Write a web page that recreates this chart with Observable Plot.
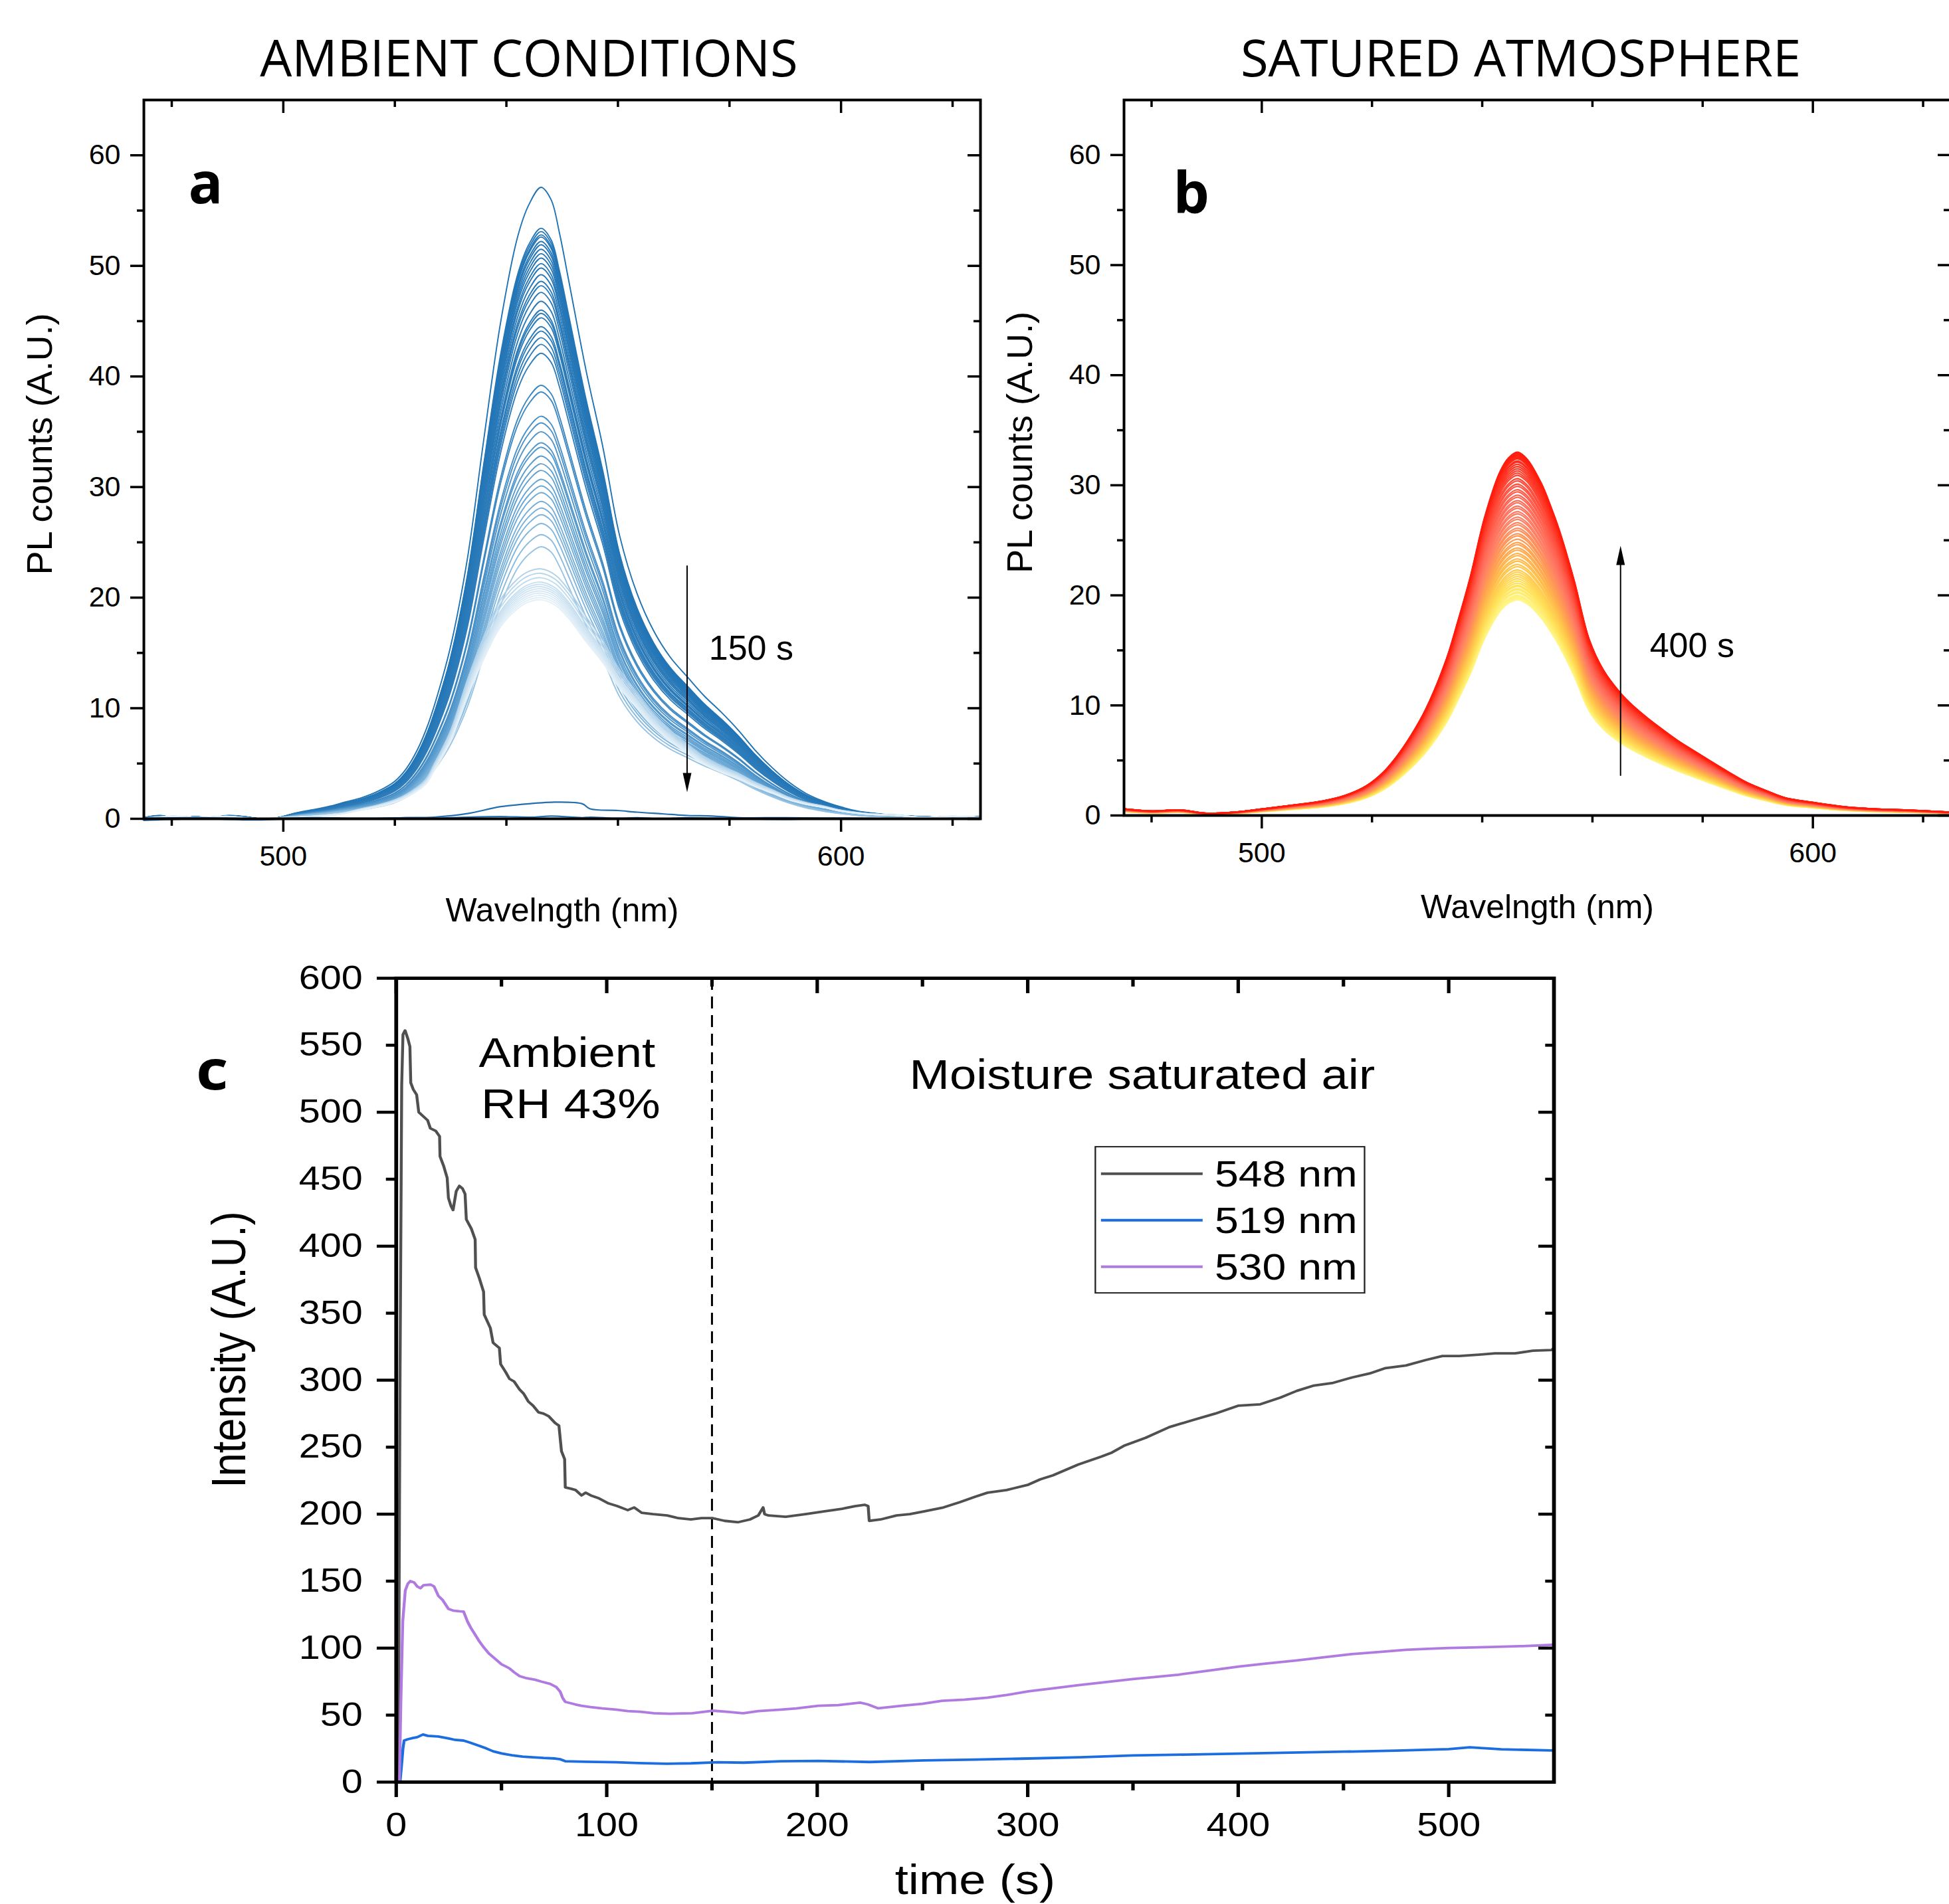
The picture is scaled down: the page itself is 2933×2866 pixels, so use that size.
<!DOCTYPE html>
<html><head><meta charset="utf-8">
<script src="https://cdn.jsdelivr.net/npm/d3@7"></script>
<script src="https://cdn.jsdelivr.net/npm/@observablehq/plot@0.6"></script>
<style>
html,body{margin:0;padding:0;background:#fff;overflow:hidden;}
#root{position:relative;width:2933px;height:2866px;overflow:hidden;background:#fff;}
.panel{position:absolute;}
.panel svg{max-width:none !important;}
</style></head><body><div id="root"></div>
<script>
// ---------- Panel a : ambient conditions (PL spectra) ----------
const wlTopA = [475,478,481,484,487,490,493,496,499,502,505,508,511,514,517,520,522,524,526,528,530,533,536,539,542,544,546.2,548,549.5,551.2,554.3,557.3,560.3,563.4,566.4,569.4,572.5,575.5,578.6,581.6,584.6,587.7,590.7,593.7,596.8,599.8,603,606,610,615,620,625];
const countsTopA = [0.1,0.3,0.0,0.2,0.1,0.3,0.2,0.0,0.1,0.5,0.8,1.1,1.5,1.9,2.5,3.4,4.5,6.2,8.6,11.8,15.6,23.5,34.5,45.0,52.6,55.5,57.1,56.0,53.0,48.6,40.5,33.6,25.6,20.4,17.0,14.6,12.8,11.1,9.6,8.0,6.2,4.6,3.3,2.3,1.6,1.1,0.7,0.5,0.3,0.2,0.1,0.2];
const wlLowA = [475,480,485,490,495,500,505,510,514,517,520,522.3,525.5,527,530,533,536,539,542,544,546.2,548.8,551.2,554,557.3,560,563.4,566,569.4,572.5,575.5,578.5,581.6,584.6,587.7,590.7,593.7,597,599.8,605,610,615,620,625];
const countsLowA = [0.0,0.2,0.1,0.2,0.0,0.1,0.2,0.4,0.8,1.1,1.5,2.0,3.1,4.3,7.0,11.0,14.5,17.4,19.0,19.6,19.8,19.3,18.1,16.2,14.1,12.0,10.0,8.5,7.0,5.9,4.9,4.2,3.6,2.9,2.3,1.7,1.3,1.0,0.7,0.4,0.3,0.1,0.2,0.1];
const peaksA = [57.1,53.4,53.1,52.8,52.6,52.2,51.9,51.5,51.1,50.7,50.2,49.8,49.2,48.6,48.2,47.6,46.8,46.0,45.7,45.3,44.5,44.1,43.5,42.9,42.1,39.2,38.6,36.4,35.8,35.0,34.0,33.6,32.8,32.1,31.5,30.7,30.1,29.5,28.7,28.1,27.5,26.7,25.7,24.6,22.6,22.2,21.8,21.4,21.2,21.0,20.8,20.6,20.4,20.2,20.0,19.8];
const darkWlA = [475,485,495,505,515,522,527,533,539,545,548,553.6,555,560,563.4,568,572.5,577,581.6,590,600,612,625];
const darkBumpA = [0.05,0.1,0.0,0.1,0.05,0.1,0.15,0.47,1.1,1.4,1.5,1.36,0.9,0.75,0.6,0.45,0.3,0.25,0.1,0.1,0.05,0.0,0.05];
const darkFlatA = [-0.15,0.0,-0.1,0.05,0.0,0.1,0.05,0.15,0.2,0.15,0.25,0.1,0.15,0.05,0.1,0.0,0.1,0.05,0.0,-0.05,0.05,0.0,0.0];

// ---------- Panel b : saturated atmosphere ----------
const wlB = [475,480,485,490,495,500.2,505,510.9,515,519,522,524.4,527,529.8,533.5,535.5,537.8,540.5,543.2,544.8,546.4,548.1,550.7,552.5,554,556.7,559.4,562,565.3,567.5,570.1,573,575.5,578,580.9,584.5,588,591.8,595,599.8,605.5,611,616.9,621,625];
const countsB = [0.6,0.4,0.5,0.2,0.3,0.6,0.9,1.3,1.8,2.7,3.9,5.3,7.2,9.7,14.2,17.5,21.6,27.2,31.2,32.5,33.0,32.4,30.2,28.0,25.9,21.3,16.0,13.2,11.0,9.9,8.8,7.7,6.8,6.0,5.1,4.0,3.0,2.2,1.6,1.2,0.8,0.6,0.5,0.4,0.3];
const peaksB = [19.6,19.7,19.8,19.9,20.0,20.2,20.3,20.5,20.6,20.8,20.9,21.1,21.3,21.5,21.7,21.9,22.1,22.3,22.6,22.8,23.1,23.3,23.6,23.8,24.1,24.3,24.6,24.8,25.1,25.4,25.6,25.9,26.1,26.4,26.6,26.9,27.1,27.4,27.6,27.9,28.1,28.4,28.6,28.9,29.1,29.4,29.6,29.9,30.1,30.4,30.6,30.9,31.1,31.3,31.5,31.7,31.9,32.1,32.2,32.4,32.5,32.6,32.7,32.8,32.9,33.0];

// ---------- Panel c : intensity vs time ----------
const t548 = [0,1.0,1.8,2.6,3.2,4.2,5.5,6.5,6.9,8.1,9.7,10.7,12.8,14.9,16.2,18.8,20.6,20.8,22.5,24.2,24.8,26.0,27.0,28.5,30.0,31.5,32.7,33.3,35.7,37.5,37.7,39.5,41.5,41.8,44.7,46.0,49.0,49.6,52,53.8,56,58.6,60.5,62.8,65,67.6,70,72.5,75.5,77.3,78.5,80.0,80.3,83,85.2,88,90,92.4,96,100.9,105,110,113,116.6,122,128.7,134,140,145,150.4,156,162.5,168,172,174.3,175,176.9,185,194.5,203,211.8,218,222.5,224.2,224.7,230,237.7,244,250.6,260,267.9,275,280.9,290,300.3,306,312,324,335,340,345.7,356,367.3,378,389,400.2,410.5,420,427.8,436,445.1,454,462.4,470,479.7,489,497,505,514.3,522,531.5,540,548.8,550];
const v548 = [0,2,300,520,558,561,555,549,522,517,513,500,497,494,488,486,482,467,460,451,436,430,427,441,445,443,439,420,413,405,384,376,366,349,339,328,324,312,306,301,299,293,290,284,281,276,275,273,268,266,247,241,220,219,218,214,216,214,212,208,206,203,205,201,200,199,197,196,197,197,195,194,196,199,205,200,199,198,200,202,204,206,207,206,195,196,199,200,202,205,209,213,216,218,222,226,229,237,243,246,251,257,265,270,275,281,282,287,292,296,298,302,305,309,311,315,318,318,319,320,320,322,322.5,324];
const t519 = [0,1.8,2.5,3.2,3.75,5.5,7.9,10,12.7,15,20,25,28,32,35,39.3,43,46,50.1,55,60,63.4,70,75.5,78,80.3,90,104.4,115,128.5,140,152.7,165,182.9,200.5,225,250.6,275,300.3,325,350,375,400.2,425,450.3,475,500,510,525,548.8,550];
const v519 = [0,0,12,25,31,32,32.9,33.5,35.5,34.5,34,32.5,31.5,31,29.5,27.2,25,23,21.4,20,19,18.7,18,17.6,17,15.6,15.2,14.8,14.2,13.7,14,14.8,14.5,15.6,15.8,15,16.2,16.8,17.6,18.5,19.9,20.5,21.3,22,22.7,23.5,24.6,26,24.5,23.6,24];
const t530 = [0,1.5,2.2,3.1,4.3,5.5,6.7,8.5,10,11.5,13,16.4,18,20,22,24.8,27,30,32,33.9,35.5,37.5,39.5,41.7,44,46.6,50,53.8,56,58.6,62,65.9,69,73.1,76,77.9,79,80.3,85,88,92.4,98,104.4,110,116,122.5,130,140.6,150.3,157,164.8,172,182.9,190,200.5,210,220.4,224,229,240,250,259.3,270,280.9,290,300.3,312,324,336,350,361,371.6,385,400.2,413,427.8,440,453.8,466,479.7,490,500,511,522.9,535,548.8,550];
const v530 = [0,0,60,120,143,148,150,149,146,144.7,147,147.4,146,139,136,129.3,128,127.5,127.3,119.7,115,110,105,100.3,96,92.6,88,84.9,82,79.1,77.5,76.4,75,73.3,71,67.5,63,59.9,58,57,56,55,54.1,53,52.5,51.4,51,51.4,53.3,52.5,51.4,53,54.1,55,57,57.5,59.3,58,55.1,57,58.5,60.7,61.5,63,65,67.7,70,72.3,74.5,76.9,78.5,80.2,83,86.2,88.5,90.8,93,95.5,97,98.7,99.5,100.1,100.5,101,101.5,102.4,103];
const seriesNamesC = ["548 nm", "519 nm", "530 nm"];

// tick values
const yLabelsAB = [0,10,20,30,40,50,60];
const yMinorAB = [5,15,25,35,45,55];
const xMajorAB = [500,600];
const xMinorAB = [480,520,540,560,580,620];
const xMajorC = [0,100,200,300,400,500];
const xMinorC = [50,150,250,350,450];
const yLabelsC = [0,50,100,150,200,250,300,350,400,450,500,550,600];
const yMajorC = [0,100,200,300,400,500,600];
const yMinorC = [50,150,250,350,450,550];

// ---------- helpers ----------
const root = document.getElementById("root");
function place(el, left, top, extra) {
  const d = document.createElement("div");
  d.className = "panel"; d.style.left = left + "px"; d.style.top = top + "px";
  if (extra) Object.assign(d.style, extra);
  el.style.maxWidth = "none";
  d.appendChild(el); root.appendChild(d);
}
function ticksX(values, len, side, H, sw) {
  return side === "bottom"
    ? Plot.ruleX(values, {x: d => d, insetTop: H, insetBottom: -len, stroke: "black", strokeWidth: sw})
    : Plot.ruleX(values, {x: d => d, insetTop: 0, insetBottom: H - len, stroke: "black", strokeWidth: sw});
}
function ticksY(values, len, side, W, sw) {
  return side === "left"
    ? Plot.ruleY(values, {y: d => d, insetLeft: -len, insetRight: W, stroke: "black", strokeWidth: sw})
    : Plot.ruleY(values, {y: d => d, insetLeft: W - len, insetRight: 0, stroke: "black", strokeWidth: sw});
}
const headDown = {draw(ctx) { ctx.moveTo(0, 0); ctx.lineTo(-6.5, -29); ctx.lineTo(6.5, -29); ctx.closePath(); }};
const headUp = {draw(ctx) { ctx.moveTo(0, 0); ctx.lineTo(-6.5, 29); ctx.lineTo(6.5, 29); ctx.closePath(); }};

// ---------- build panel a ----------
const topPeakA = d3.max(countsTopA), lowPeakA = d3.max(countsLowA);
const rowsA = [];
peaksA.forEach((p, i) => {
  const low = p < 23.5;
  const wl = low ? wlLowA : wlTopA, c = low ? countsLowA : countsTopA, ref = low ? lowPeakA : topPeakA;
  wl.forEach((w, j) => rowsA.push({id: i, peak: p, wl: w, v: c[j] * p / ref}));
});
const darkRowsA = [];
darkWlA.forEach((w, j) => { darkRowsA.push({id: "bump", wl: w, v: darkBumpA[j]}); });
darkWlA.forEach((w, j) => { darkRowsA.push({id: "flat", wl: w, v: darkFlatA[j]}); });

const arrowA = {x: 572.4, yTop: 22.9, yTip: 2.4, yBase: 3.9};
const noteA = {x: 576.3, y: 14.4, label: "150 s"};

function spectraPanel({rows, extraLines, width, mL, mR, mT, mB, height, colorDomain, colorRange, title, titleDx, letter, letterDx, letterDy, arrow, head, note, lw}) {
  const W = width - mL - mR, H = height - mT - mB;
  return Plot.plot({
    width, height, marginLeft: mL, marginRight: mR, marginTop: mT, marginBottom: mB,
    x: {domain: [475, 625]},
    y: {domain: [0, 65]},
    color: {type: "linear", domain: colorDomain, range: colorRange, interpolate: "rgb"},
    style: {fontFamily: "Liberation Sans, Arial, sans-serif", fontSize: "43px", color: "black", background: "transparent", overflow: "visible", maxWidth: "none"},
    marks: [
      Plot.line(rows, {x: "wl", y: "v", z: "id", stroke: "peak", strokeWidth: lw, curve: "catmull-rom"}),
      ...(extraLines ? [Plot.line(extraLines, {x: "wl", y: "v", z: "id", stroke: "#236fb0", strokeWidth: 2.2, curve: "catmull-rom"})] : []),
      Plot.frame({stroke: "black", strokeWidth: 4}),
      ticksX(xMajorAB, 20, "bottom", H, 3.5), ticksX(xMinorAB, 11, "bottom", H, 3.5),
      ticksX(xMajorAB, 20, "top", H, 3.5), ticksX(xMinorAB, 11, "top", H, 3.5),
      ticksY(yLabelsAB, 20, "left", W, 3.5), ticksY(yMinorAB, 10, "left", W, 3.5),
      ticksY(yLabelsAB, 19, "right", W, 3.5), ticksY(yMinorAB, 10, "right", W, 3.5),
      Plot.axisY(yLabelsAB, {anchor: "left", tickSize: 0, tickPadding: 35, fontSize: 43, label: null, tickFormat: d => String(d)}),
      Plot.axisX(xMajorAB, {anchor: "bottom", tickSize: 0, tickPadding: 40, fontSize: 43, label: null, tickFormat: d => String(d)}),
      Plot.text(["Wavelngth (nm)"], {text: d => d, frameAnchor: "bottom", dy: 154, lineAnchor: "bottom", textAnchor: "middle", fontSize: 50}),
      Plot.text(["PL counts (A.U.)"], {text: d => d, frameAnchor: "left", rotate: -90, dx: -139, dy: -23, lineAnchor: "bottom", textAnchor: "middle", fontSize: 54}),
      Plot.text([title], {text: d => d, frameAnchor: "top", dx: titleDx, dy: -36, lineAnchor: "bottom", textAnchor: "middle", fontFamily: "Open Sans", fontSize: 76}),
      Plot.text([letter], {text: d => d, frameAnchor: "top-left", dx: letterDx, dy: letterDy, lineAnchor: "bottom", textAnchor: "start", fontFamily: "Open Sans", fontWeight: "bold", fontSize: 86}),
      Plot.link([arrow], {x1: "x", x2: "x", y1: "yTop", y2: "yBase", stroke: "black", strokeWidth: 2}),
      Plot.dot([arrow], {x: "x", y: "yTip", symbol: head, fill: "black", stroke: null, r: 5}),
      Plot.text([note], {x: "x", y: "y", text: "label", textAnchor: "start", lineAnchor: "bottom", fontSize: 52})
    ]
  });
}

const plotA = spectraPanel({
  rows: rowsA, extraLines: darkRowsA, width: 1560, height: 1450, mL: 216, mR: 85, mT: 150, mB: 218,
  colorDomain: [19.8, 22.6, 26, 32, 42, 57.1],
  colorRange: ["#e4f0f8", "#b0d2ea", "#86b9de", "#5d9fd0", "#2f7dbb", "#1f73b4"],
  title: "AMBIENT CONDITIONS", titleDx: -50, letter: "a", letterDx: 67, letterDy: 155,
  arrow: arrowA, head: headDown, note: noteA, lw: 1.9
});
place(plotA, 0, 0);

// ---------- build panel b ----------
const topPeakB = d3.max(countsB);
const rowsB = [];
peaksB.forEach((p, i) => { wlB.forEach((w, j) => rowsB.push({id: i, peak: p, wl: w, v: countsB[j] * p / topPeakB})); });
const arrowB = {x: 565.1, yTop: 3.6, yBase: 22.8, yTip: 24.5};
const noteB = {x: 570.4, y: 14.4, label: "400 s"};
const plotB = spectraPanel({
  rows: rowsB, extraLines: null, width: 1520, height: 1450, mL: 251, mR: 25, mT: 150, mB: 223,
  colorDomain: [19.6, 21, 23, 25, 27, 29, 31, 33],
  colorRange: ["#fff78a", "#ffe35a", "#ffc04a", "#ff9d52", "#ff8066", "#ff6655", "#ff4433", "#ff1c0c"],
  title: "SATURED ATMOSPHERE", titleDx: -25, letter: "b", letterDx: 74, letterDy: 170,
  arrow: arrowB, head: headUp, note: noteB, lw: 2.3
});
place(plotB, 1440, 0);

// ---------- build panel c ----------
const colorsC = ["#505050", "#1c6ee0", "#b07be0"];
const rowsC = [];
[[t548, v548], [t519, v519], [t530, v530]].forEach(([ts, vs], k) => {
  ts.forEach((t, j) => rowsC.push({series: seriesNamesC[k], t, v: vs[j]}));
});
const legendBox = {x1: 332.3, x2: 460.2, y1: 364.9, y2: 474};
const legendRows = [
  {name: seriesNamesC[0], color: colorsC[0], y: 454.1, ty: 444.7},
  {name: seriesNamesC[1], color: colorsC[1], y: 419.4, ty: 410},
  {name: seriesNamesC[2], color: colorsC[2], y: 384.7, ty: 375.3}
];
const legendLineX = [334.8, 383.1], legendTextX = 388.8;
const notesC = [
  {t: 39.2, v: 534, label: "Ambient"},
  {t: 40.3, v: 495.8, label: "RH 43%"},
  {t: 243.8, v: 517.6, label: "Moisture saturated air"}
];
const WC = 2550 - 518 - 517, HC = 1466 - 72 - 184;
const plotC = Plot.plot({
  width: 2550, height: 1466, marginLeft: 518, marginRight: 517, marginTop: 72, marginBottom: 184,
  x: {domain: [0, 550]},
  y: {domain: [0, 600]},
  style: {fontFamily: "Liberation Sans, Arial, sans-serif", fontSize: "50px", color: "black", background: "transparent", overflow: "visible", maxWidth: "none"},
  marks: [
    Plot.ruleX([150], {stroke: "black", strokeWidth: 2.6, strokeDasharray: "18,10"}),
    ...seriesNamesC.map((name, k) => Plot.line(rowsC.filter(d => d.series === name), {x: "t", y: "v", stroke: colorsC[k], strokeWidth: 3.8})),
    Plot.rect([legendBox], {x1: "x1", x2: "x2", y1: "y1", y2: "y2", fill: "white", stroke: "#222", strokeWidth: 2}),
    ...legendRows.map(r => Plot.link([r], {x1: () => legendLineX[0], x2: () => legendLineX[1], y1: "y", y2: "y", stroke: r.color, strokeWidth: 4})),
    Plot.text(legendRows, {x: () => legendTextX, y: "ty", text: "name", textAnchor: "start", lineAnchor: "bottom", fontSize: 56}),
    Plot.text(notesC, {x: "t", y: "v", text: "label", textAnchor: "start", lineAnchor: "bottom", fontSize: 63}),
    Plot.frame({stroke: "black", strokeWidth: 5}),
    ticksX(xMajorC, 23, "bottom", HC, 4.5), ticksX(xMinorC, 13, "bottom", HC, 4.5),
    ticksX(xMajorC, 23, "top", HC, 4.5), ticksX(xMinorC, 13, "top", HC, 4.5),
    ticksY(yMajorC, 25, "left", WC, 4.5), ticksY(yMinorC, 13, "left", WC, 4.5),
    ticksY(yMajorC, 20, "right", WC, 4.5), ticksY(yMinorC, 11, "right", WC, 4.5),
    Plot.axisY(yLabelsC, {anchor: "left", tickSize: 0, tickPadding: 44, fontSize: 50, label: null, tickFormat: d => String(d)}),
    Plot.axisX(xMajorC, {anchor: "bottom", tickSize: 0, tickPadding: 46, fontSize: 50, label: null, tickFormat: d => String(d)}),
    Plot.text(["time (s)"], {text: d => d, frameAnchor: "bottom", dy: 168, lineAnchor: "bottom", textAnchor: "middle", fontSize: 63}),
    Plot.text(["Intensity (A.U.)"], {text: d => d, frameAnchor: "left", rotate: -90, dx: -198, dy: -46, lineAnchor: "bottom", textAnchor: "middle", fontSize: 63}),
    Plot.text(["c"], {text: d => d, frameAnchor: "top-left", dx: -262, dy: 167, lineAnchor: "bottom", textAnchor: "start", fontFamily: "Open Sans", fontWeight: "bold", fontSize: 82})
  ]
});
place(plotC, 0, 1400, {transform: "scaleX(1.15)", transformOrigin: "0 0"});
</script></body></html>
